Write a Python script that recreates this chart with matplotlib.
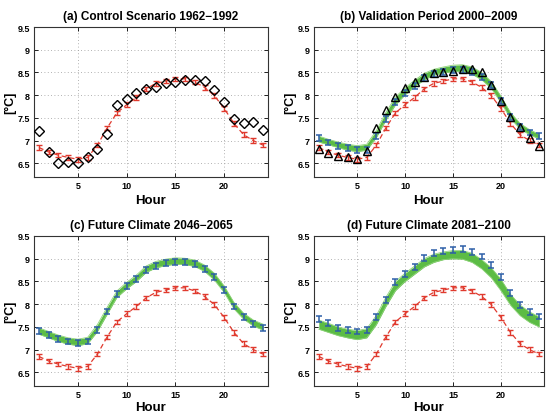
import numpy as np
import matplotlib
matplotlib.use("Agg")
import matplotlib.pyplot as plt

plt.rcParams['font.family'] = ['Liberation Sans', 'DejaVu Sans']
plt.rcParams['font.weight'] = 'bold'

hours = list(range(1, 25))

# Model control (red) - same in every panel
red_mean = [6.85, 6.75, 6.68, 6.63, 6.59, 6.63, 6.90, 7.28, 7.61, 7.79, 7.95, 8.14,
            8.26, 8.31, 8.36, 8.36, 8.29, 8.17, 7.99, 7.71, 7.38, 7.13, 7.00, 6.90]
red_err = [0.05] * 24

# (a) observations 1962-1992
obs_a = [7.22, 6.76, 6.50, 6.52, 6.50, 6.64, 6.82, 7.15, 7.78, 7.92, 8.04, 8.14,
         8.19, 8.26, 8.30, 8.33, 8.34, 8.31, 8.12, 7.85, 7.48, 7.38, 7.40, 7.23]

# (b) validation 2000-2009
obs_b = [6.82, 6.72, 6.67, 6.63, 6.60, 6.78, 7.27, 7.67, 7.97, 8.15, 8.30, 8.40,
         8.48, 8.52, 8.54, 8.57, 8.58, 8.51, 8.23, 7.88, 7.52, 7.30, 7.06, 6.88]
blue_b = [7.05, 6.96, 6.88, 6.83, 6.80, 6.80, 7.10, 7.48, 7.85, 8.05, 8.20, 8.38,
          8.47, 8.52, 8.55, 8.56, 8.52, 8.40, 8.22, 7.88, 7.52, 7.30, 7.18, 7.10]
band_b_lo = [6.97, 6.91, 6.85, 6.79, 6.76, 6.79, 7.07, 7.45, 7.79, 8.01, 8.19, 8.34,
             8.44, 8.49, 8.52, 8.52, 8.46, 8.34, 8.15, 7.84, 7.49, 7.26, 7.13, 7.04]
band_b_hi = [7.10, 7.03, 6.97, 6.92, 6.89, 6.92, 7.22, 7.62, 7.96, 8.16, 8.33, 8.48,
             8.57, 8.62, 8.66, 8.67, 8.62, 8.50, 8.30, 7.98, 7.62, 7.38, 7.24, 7.14]

# (c) future 2046-2065
blue_c = [7.41, 7.32, 7.23, 7.18, 7.14, 7.18, 7.44, 7.84, 8.22, 8.40, 8.55, 8.76,
          8.85, 8.90, 8.93, 8.93, 8.89, 8.78, 8.60, 8.32, 7.95, 7.72, 7.57, 7.48]
band_c_lo = [7.34, 7.26, 7.18, 7.12, 7.09, 7.13, 7.40, 7.78, 8.15, 8.34, 8.50, 8.70,
             8.80, 8.85, 8.88, 8.87, 8.83, 8.72, 8.53, 8.26, 7.90, 7.67, 7.52, 7.43]
band_c_hi = [7.48, 7.40, 7.32, 7.26, 7.23, 7.27, 7.55, 7.93, 8.29, 8.48, 8.64, 8.84,
             8.94, 8.99, 9.02, 9.01, 8.97, 8.86, 8.68, 8.40, 8.04, 7.80, 7.65, 7.56]

# (d) future 2081-2100
blue_d = [7.68, 7.58, 7.48, 7.43, 7.40, 7.43, 7.72, 8.10, 8.48, 8.67, 8.82, 9.02,
          9.12, 9.18, 9.20, 9.22, 9.15, 9.05, 8.86, 8.60, 8.24, 7.99, 7.83, 7.73]
band_d_lo = [7.45, 7.38, 7.31, 7.26, 7.22, 7.26, 7.55, 7.95, 8.30, 8.50, 8.66, 8.82,
             8.92, 8.98, 9.00, 8.99, 8.92, 8.78, 8.58, 8.30, 7.98, 7.75, 7.60, 7.50]
band_d_hi = [7.65, 7.58, 7.50, 7.45, 7.42, 7.46, 7.75, 8.15, 8.50, 8.68, 8.84, 9.00,
             9.10, 9.15, 9.18, 9.18, 9.12, 8.98, 8.80, 8.55, 8.22, 7.98, 7.83, 7.72]
blue_err = [0.065] * 24

titles = ["(a) Control Scenario 1962\u22121992",
          "(b) Validation Period 2000\u22122009",
          "(c) Future Climate 2046\u22122065",
          "(d) Future Climate 2081\u22122100"]
xticks = [5, 10, 15, 20]
yticks = [6.5, 7, 7.5, 8, 8.5, 9, 9.5]
ytick_labels = ["6.5", "7", "7.5", "8", "8.5", "9", "9.5"]

RED = '#e03a2e'
BLUE = '#2d5fa8'
GREEN = '#5cbc45'

W, H = 551, 414
fig = plt.figure(figsize=(W / 100, H / 100), dpi=100)

def rect(l, r, t, b):
    return [l / W, 1 - b / H, (r - l) / W, (b - t) / H]

axes = [fig.add_axes(rect(34, 268, 28, 178)),
        fig.add_axes(rect(314, 544, 28, 178)),
        fig.add_axes(rect(34, 268, 237, 387)),
        fig.add_axes(rect(314, 544, 237, 387))]

bands = [None, (band_b_lo, band_b_hi), (band_c_lo, band_c_hi), (band_d_lo, band_d_hi)]
blues = [None, blue_b, blue_c, blue_d]

for i, ax in enumerate(axes):
    if bands[i] is not None:
        lo, hi = bands[i]
        ax.fill_between(hours, lo, hi, color=GREEN, lw=0, zorder=2)
        ax.plot(hours, lo, color='#8fd37a', lw=0.6, zorder=2.1)
        ax.plot(hours, hi, color='#8fd37a', lw=0.6, zorder=2.1)
    ax.errorbar(hours, red_mean, yerr=red_err, fmt='--', color=RED, lw=0.9,
                elinewidth=1.0, capsize=2.2, capthick=1.0, dashes=(4, 2.5), zorder=3)
    if blues[i] is not None:
        ax.errorbar(hours, blues[i], yerr=blue_err, fmt='none', ecolor=BLUE,
                    elinewidth=1.1, capsize=2.2, capthick=1.1, zorder=4)
    if i == 0:
        ax.plot(hours, obs_a, linestyle='none', marker='D', markersize=5,
                markerfacecolor='none', markeredgecolor='black', markeredgewidth=1.0, zorder=5)
    if i == 1:
        ax.plot(hours, obs_b, linestyle='none', marker='^', markersize=6,
                markerfacecolor='none', markeredgecolor='black', markeredgewidth=1.0, zorder=5)
    ax.set_xlim(0.5, 24.5)
    ax.set_ylim(6.2, 9.5)
    ax.set_xticks(xticks)
    ax.set_xticklabels([str(t) for t in xticks], fontsize=6.5, fontweight='bold')
    ax.set_yticks(yticks)
    ax.set_yticklabels(ytick_labels, fontsize=6.5, fontweight='bold')
    ax.tick_params(direction='in', length=3, width=0.6, top=True, right=True, pad=3)
    ax.grid(True, linestyle=(0, (1, 3)), color='#999999', lw=0.6)
    ax.set_axisbelow(True)
    for s in ax.spines.values():
        s.set_linewidth(0.8)
        s.set_color('#333333')
    ax.set_title(titles[i], fontsize=8.5, fontweight='bold', pad=6)
    ax.set_xlabel('Hour', fontsize=9.5, fontweight='bold', labelpad=3 if i < 2 else 1)
    ax.set_ylabel('[\u00b0C]', fontsize=9, fontweight='bold', labelpad=1)

fig.savefig('out.png', dpi=100)
